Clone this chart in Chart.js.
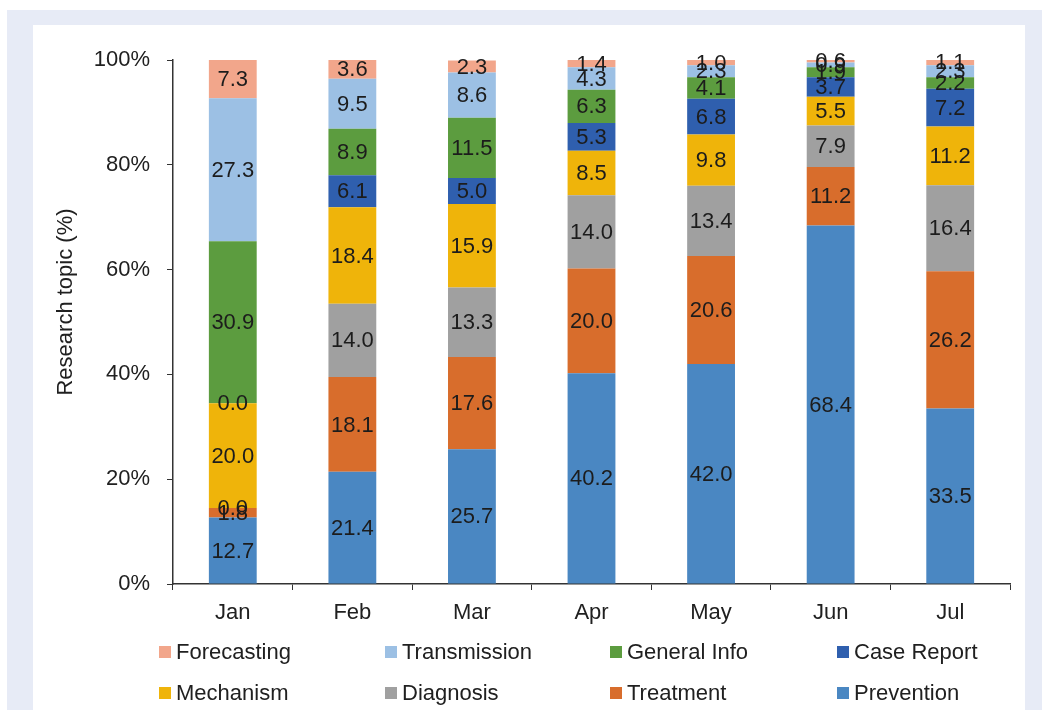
<!DOCTYPE html>
<html><head><meta charset="utf-8">
<script src="https://cdn.jsdelivr.net/npm/chart.js@4"></script>
<style>
html,body{margin:0;padding:0;background:#fff;width:1042px;height:710px;overflow:hidden;}
#band{position:absolute;left:7px;top:10px;right:0;bottom:0;background:#e7ebf6;}
#card{position:absolute;left:33px;top:25px;width:992px;bottom:0;background:#fff;}
#wrap{position:absolute;left:0;top:0;width:1042px;height:710px;}
</style></head><body>
<div id="band"></div><div id="card"></div>
<div id="wrap"><canvas id="c"></canvas></div>
<script>
// Categories
const months = ['Jan','Feb','Mar','Apr','May','Jun','Jul'];
// Series values (%), stacked bottom to top
const prevention   = [12.7, 21.4, 25.7, 40.2, 42.0, 68.4, 33.5];
const treatment    = [1.8, 18.1, 17.6, 20.0, 20.6, 11.2, 26.2];
const diagnosis    = [0.0, 14.0, 13.3, 14.0, 13.4, 7.9, 16.4];
const mechanism    = [20.0, 18.4, 15.9, 8.5, 9.8, 5.5, 11.2];
const caseReport   = [0.0, 6.1, 5.0, 5.3, 6.8, 3.7, 7.2];
const generalInfo  = [30.9, 8.9, 11.5, 6.3, 4.1, 1.9, 2.2];
const transmission = [27.3, 9.5, 8.6, 4.3, 2.3, 0.9, 2.3];
const forecasting  = [7.3, 3.6, 2.3, 1.4, 1.0, 0.6, 1.1];
// Y tick values
const yTicks = [0, 20, 40, 60, 80, 100];
const yTitle = 'Research topic (%)';

const FONT = '"Liberation Sans", Arial, sans-serif';
const FS = 22;
const TXT = '#202020';

const datasets = [
  {label:'Prevention',   data:prevention,   backgroundColor:'#4a87c2'},
  {label:'Treatment',    data:treatment,    backgroundColor:'#d86d2c'},
  {label:'Diagnosis',    data:diagnosis,    backgroundColor:'#a0a0a0'},
  {label:'Mechanism',    data:mechanism,    backgroundColor:'#efb40a'},
  {label:'Case Report',  data:caseReport,   backgroundColor:'#2f5fae'},
  {label:'General Info', data:generalInfo,  backgroundColor:'#5c9c3f'},
  {label:'Transmission', data:transmission, backgroundColor:'#9cc0e4'},
  {label:'Forecasting',  data:forecasting,  backgroundColor:'#f2a68b'}
].map(d => Object.assign(d, {barPercentage:0.4, categoryPercentage:1.0, borderWidth:0}));

const segmentLabels = {
  id:'segmentLabels',
  afterDatasetsDraw(chart){
    const ctx = chart.ctx;
    ctx.save();
    ctx.font = FS + 'px ' + FONT;
    ctx.fillStyle = '#1c1c1c';
    ctx.textAlign = 'center';
    ctx.textBaseline = 'middle';
    chart.data.datasets.forEach((ds,i)=>{
      const meta = chart.getDatasetMeta(i);
      meta.data.forEach((el,j)=>{
        const p = el.getProps(['x','y','base'], true);
        ctx.fillText(ds.data[j].toFixed(1), p.x, (p.y + p.base)/2 + 1);
      });
    });
    ctx.restore();
  }
};

const axisTitle = {
  id:'axisTitle',
  afterDraw(chart){
    const ctx = chart.ctx;
    ctx.save();
    ctx.translate(66, 302);
    ctx.rotate(-Math.PI/2);
    ctx.font = FS + 'px ' + FONT;
    ctx.fillStyle = TXT;
    ctx.textAlign = 'center';
    ctx.textBaseline = 'middle';
    ctx.fillText(yTitle, 0, 0);
    ctx.restore();
  }
};

const gridLegend = {
  id:'gridLegend',
  afterDraw(chart){
    const ctx = chart.ctx;
    const cols = [159, 385, 610, 837];
    const rows = [652, 693];
    const items = chart.data.datasets.slice().reverse();
    ctx.save();
    ctx.font = FS + 'px ' + FONT;
    ctx.textAlign = 'left';
    ctx.textBaseline = 'middle';
    items.forEach((ds,k)=>{
      const x = cols[k % 4], y = rows[Math.floor(k / 4)];
      ctx.fillStyle = ds.backgroundColor;
      ctx.fillRect(x, y - 6, 12, 12);
      ctx.fillStyle = TXT;
      ctx.fillText(ds.label, x + 17, y + 1);
    });
    ctx.restore();
  }
};

new Chart(document.getElementById('c'), {
  type:'bar',
  data:{labels:months, datasets:datasets},
  plugins:[segmentLabels, axisTitle, gridLegend],
  options:{
    responsive:true,
    maintainAspectRatio:false,
    animation:false,
    layout:{padding:{left:0, right:32, top:60, bottom:0}},
    plugins:{legend:{display:false}, tooltip:{enabled:false}},
    scales:{
      x:{
        stacked:true,
        offset:true,
        afterFit(s){ s.height = 126; },
        grid:{display:true, drawOnChartArea:false, drawTicks:true, tickLength:6, offset:true, color:'#333'},
        border:{display:true, color:'#333', width:1.5},
        ticks:{font:{size:FS, family:FONT}, color:TXT, padding:10}
      },
      y:{
        stacked:true,
        min:0, max:100,
        afterFit(s){ s.width = 173; },
        afterBuildTicks(s){ s.ticks = yTicks.map(v => ({value:v})); },
        grid:{display:true, drawOnChartArea:false, drawTicks:true, tickLength:6, color:'#333'},
        border:{display:true, color:'#333', width:1.5},
        ticks:{font:{size:FS, family:FONT}, color:TXT, padding:17, callback:v => v + '%'}
      }
    }
  }
});
</script>
</body></html>
